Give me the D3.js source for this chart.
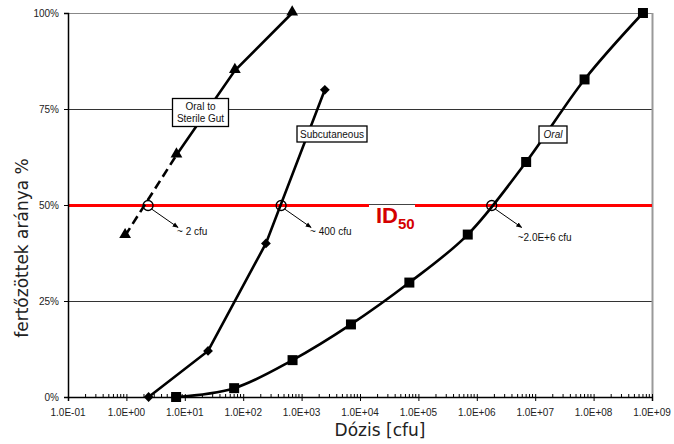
<!DOCTYPE html>
<html>
<head>
<meta charset="utf-8">
<script src="https://cdn.jsdelivr.net/npm/d3@7"></script>
<style>
  body { margin: 0; background: #fff; }
  svg { display: block; }
  .tick-label { font-family: "Liberation Sans", Arial, sans-serif; font-size: 10px; fill: #222; }
  .axis-title { font-family: "DejaVu Sans", Verdana, sans-serif; font-size: 17px; fill: #222; }
  .note { font-family: "Liberation Sans", Arial, sans-serif; font-size: 10px; fill: #111; }
</style>
</head>
<body>
<svg id="chart" width="674" height="444"></svg>
<script>
// x ticks (log dose) and labels
const xTicks = [1e-1, 1e0, 1e1, 1e2, 1e3, 1e4, 1e5, 1e6, 1e7, 1e8, 1e9];
const xTickLabels = ['1.0E-01','1.0E+00','1.0E+01','1.0E+02','1.0E+03','1.0E+04','1.0E+05','1.0E+06','1.0E+07','1.0E+08','1.0E+09'];
const yTicks = [0, 25, 50, 75, 100];
const yTickLabels = ['0%', '25%', '50%', '75%', '100%'];

// Oral to Sterile Gut (triangles)
const gutDose = [0.95, 7.2, 72, 690];
const gutPct = [42, 63, 85, 100];
// Subcutaneous (diamonds)
const subDose = [2.4, 25, 245, 2500];
const subPct = [0, 12, 40, 80];
// Oral (squares)
const oralDose = [7.1, 70, 700, 7000, 70000, 7e5, 7e6, 7e7, 7e8];
const oralPct = [0, 2.3, 9.6, 18.9, 29.8, 42.3, 61.2, 82.7, 100];
// ID50 estimates
const id50Dose = [2.35, 446, 1.8e6];
const id50Labels = ['~ 2 cfu', '~ 400 cfu', '~2.0E+6 cfu'];

const svg = d3.select('#chart');
const width = 674, height = 444;
const margin = { top: 13, bottom: 47, right: 22, left: 68 };
const innerWidth = width - margin.left - margin.right;
const innerHeight = height - margin.top - margin.bottom;

const xScale = d3.scaleLog().domain([0.1, 1e9]).range([0, innerWidth]);
const yScale = d3.scaleLinear().domain([0, 100]).range([innerHeight, 0]);

const g = svg.append('g')
  .attr('transform', 'translate(' + margin.left + ',' + margin.top + ')');

// gridlines
g.selectAll('.grid')
  .data(yTicks.filter(d => d > 0))
  .enter().append('line')
  .attr('x1', 0).attr('x2', innerWidth)
  .attr('y1', d => yScale(d) + 0.5).attr('y2', d => yScale(d) + 0.5)
  .attr('stroke', d => d === 100 ? '#888' : '#333')
  .attr('stroke-width', 1);

// right border
g.append('line')
  .attr('x1', innerWidth + 0.5).attr('x2', innerWidth + 0.5)
  .attr('y1', 0).attr('y2', innerHeight)
  .attr('stroke', '#999').attr('stroke-width', 2);

// red ID50 line
g.append('line')
  .attr('x1', 0).attr('x2', innerWidth)
  .attr('y1', yScale(50) + 0.5).attr('y2', yScale(50) + 0.5)
  .attr('stroke', '#f00').attr('stroke-width', 3);

// y axis
const yAxis = d3.axisLeft(yScale).tickValues(yTicks)
  .tickFormat((d, i) => yTickLabels[i]).tickSize(4).tickPadding(5);
const yG = g.append('g').call(yAxis);
yG.select('.domain').attr('stroke', '#000').attr('stroke-width', 1.5);
yG.selectAll('.tick line').attr('stroke', '#000');
yG.selectAll('.tick text').attr('class', 'tick-label');

// x axis (labels placed separately)
const xAxis = d3.axisBottom(xScale).tickValues(xTicks)
  .tickFormat('').tickSize(4);
const xG = g.append('g').attr('transform', 'translate(0,' + innerHeight + ')').call(xAxis);
xG.select('.domain').attr('stroke', '#000').attr('stroke-width', 1.5);
xG.selectAll('.tick line').attr('stroke', '#000').attr('y1', -3);
xG.selectAll('.tick text').remove();

g.selectAll('.xlabel')
  .data(xTicks)
  .enter().append('text')
  .attr('class', 'tick-label')
  .attr('text-anchor', 'middle')
  .attr('x', d => xScale(d))
  .attr('y', innerHeight + 19)
  .text((d, i) => xTickLabels[i]);

// minor log ticks
const minor = [];
xTicks.slice(0, -1).forEach(t => { for (let k = 2; k <= 9; k++) minor.push(t * k); });
xG.selectAll('.minor')
  .data(minor)
  .enter().append('line')
  .attr('x1', d => xScale(d)).attr('x2', d => xScale(d))
  .attr('y1', 0).attr('y2', -3)
  .attr('stroke', '#000').attr('stroke-width', 1);

// series
const pts = (xs, ys) => xs.map((x, i) => ({ x: x, y: ys[i] }));
const lineStraight = d3.line().x(d => xScale(d.x)).y(d => yScale(d.y));
const lineSmooth = d3.line().x(d => xScale(d.x)).y(d => yScale(d.y)).curve(d3.curveCatmullRom);

const gut = pts(gutDose, gutPct);
const sub = pts(subDose, subPct);
const oral = pts(oralDose, oralPct);

g.append('path').datum(gut.slice(0, 2)).attr('d', lineStraight)
  .attr('fill', 'none').attr('stroke', '#000').attr('stroke-width', 2.6)
  .attr('stroke-dasharray', '9,5');
g.append('path').datum(gut.slice(1)).attr('d', lineStraight)
  .attr('fill', 'none').attr('stroke', '#000').attr('stroke-width', 2.6);
g.append('path').datum(sub).attr('d', lineStraight)
  .attr('fill', 'none').attr('stroke', '#000').attr('stroke-width', 2.6);
g.append('path').datum(oral).attr('d', lineSmooth)
  .attr('fill', 'none').attr('stroke', '#000').attr('stroke-width', 2.6);

g.selectAll('.tri').data(gut).enter().append('path')
  .attr('d', d3.symbol().type(d3.symbolTriangle).size(60))
  .attr('transform', d => 'translate(' + xScale(d.x) + ',' + (yScale(d.y) - 1) + ')')
  .attr('fill', '#000');
g.selectAll('.dia').data(sub).enter().append('path')
  .attr('d', d3.symbol().type(d3.symbolSquare).size(48))
  .attr('transform', d => 'translate(' + xScale(d.x) + ',' + yScale(d.y) + ') rotate(45)')
  .attr('fill', '#000');
g.selectAll('.sq').data(oral).enter().append('path')
  .attr('d', d3.symbol().type(d3.symbolSquare).size(100))
  .attr('transform', d => 'translate(' + xScale(d.x) + ',' + yScale(d.y) + ')')
  .attr('fill', '#000');

// ID50 circles, arrows, labels
const defs = svg.append('defs');
defs.append('marker').attr('id', 'arrow')
  .attr('viewBox', '0 0 10 10').attr('refX', 9).attr('refY', 5)
  .attr('markerWidth', 6).attr('markerHeight', 6).attr('orient', 'auto')
  .append('path').attr('d', 'M0,1 L10,5 L0,9 Z').attr('fill', '#000');

id50Dose.forEach((d, i) => {
  const cx = xScale(d), cy = yScale(50) + 0.5;
  g.append('circle').attr('cx', cx).attr('cy', cy).attr('r', 5)
    .attr('fill', 'none').attr('stroke', '#000').attr('stroke-width', 1.3);
  g.append('line')
    .attr('x1', cx + 3.5).attr('y1', cy + 3.5)
    .attr('x2', cx + 30).attr('y2', cy + 22)
    .attr('stroke', '#000').attr('stroke-width', 1)
    .attr('marker-end', 'url(#arrow)');
  const last = i === id50Dose.length - 1;
  g.append('text').attr('class', 'note')
    .attr('x', cx + (last ? 26 : 29))
    .attr('y', cy + (last ? 35 : 29))
    .text(id50Labels[i]);
});

// ID50 label with white gap in red line
const idX = 301;
g.append('rect').attr('x', idX).attr('y', yScale(50) - 1).attr('width', 46).attr('height', 30)
  .attr('fill', '#fff');
g.append('line')
  .attr('x1', idX).attr('x2', idX + 46)
  .attr('y1', yScale(50) - 0.5).attr('y2', yScale(50) - 0.5)
  .attr('stroke', '#444').attr('stroke-width', 1);
const idText = g.append('text')
  .attr('x', idX + 7).attr('y', yScale(50) + 18)
  .attr('fill', '#d40000')
  .style('font-family', '"Liberation Sans", Arial, sans-serif')
  .style('font-weight', 'bold').style('font-size', '22px');
idText.append('tspan').text('ID');
idText.append('tspan').attr('dy', 6).style('font-size', '15px').text('50');

// series labels (boxes)
function boxLabel(cx, cy, w, h, lines, italic) {
  g.append('rect')
    .attr('x', cx - margin.left - w / 2).attr('y', cy - margin.top - h / 2)
    .attr('width', w).attr('height', h)
    .attr('fill', '#fff').attr('stroke', '#000').attr('stroke-width', 1.3);
  const t = g.append('text').attr('class', 'note')
    .attr('text-anchor', 'middle')
    .style('font-style', italic ? 'italic' : 'normal');
  lines.forEach((s, i) => {
    t.append('tspan')
      .attr('x', cx - margin.left)
      .attr('y', cy - margin.top + (i - (lines.length - 1) / 2) * 12 + 3.5)
      .text(s);
  });
}
boxLabel(200.5, 112.5, 56, 28, ['Oral to', 'Sterile Gut'], false);
boxLabel(332, 134, 70, 16, ['Subcutaneous'], false);
boxLabel(553, 134.5, 28, 17, ['Oral'], true);

// axis titles
svg.append('text').attr('class', 'axis-title')
  .attr('text-anchor', 'middle')
  .attr('x', 380).attr('y', 436)
  .text('Dózis [cfu]');
svg.append('text').attr('class', 'axis-title')
  .attr('text-anchor', 'middle')
  .attr('transform', 'translate(28,248) rotate(-90)')
  .text('fertőzöttek aránya %');
</script>
</body>
</html>
